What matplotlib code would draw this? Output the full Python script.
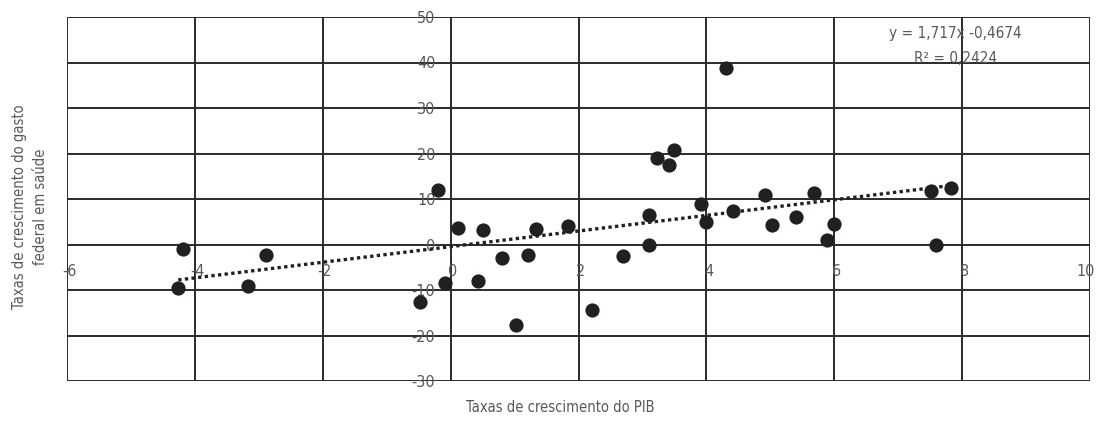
"""
Scatter of GDP growth vs. federal health spending growth, with linear trendline.
"""

import matplotlib
matplotlib.use("Agg")
import matplotlib.pyplot as plt
import matplotlib.transforms as mtransforms
import numpy as np

# ---- Data ----
pib_growth = [-4.26, -4.18, -3.17, -2.89, -0.48, -0.19, -0.09, 0.12, 0.43, 0.51,
              0.81, 1.02, 1.21, 1.34, 1.83, 2.21, 2.70, 3.11, 3.11, 3.23,
              3.42, 3.50, 3.92, 3.99, 4.31, 4.42, 4.91, 5.02, 5.40, 5.69,
              5.88, 5.99, 7.51, 7.59, 7.83]
health_growth = [-9.5, -1.0, -9.1, -2.2, -12.7, 12.0, -8.4, 3.7, -8.1, 3.1,
                 -2.9, -17.7, -2.2, 3.3, 4.0, -14.5, -2.6, 6.5, 0.0, 19.0,
                 17.4, 20.7, 8.8, 4.9, 38.9, 7.3, 10.8, 4.2, 6.0, 11.3,
                 1.0, 4.4, 11.8, -0.1, 12.5]

slope, intercept = 1.717, -0.4674
r2 = 0.2424

x_ticks = [-6, -4, -2, 0, 2, 4, 6, 8, 10]
y_ticks = [-30, -20, -10, 0, 10, 20, 30, 40, 50]

TEXT_COLOR = "#595959"
LINE_COLOR = "#2b2b2b"
DOT_COLOR = "#231f20"

plt.rcParams["font.family"] = ["DejaVu Sans"]
plt.rcParams["font.stretch"] = "condensed"
plt.rcParams["axes.unicode_minus"] = False


def main():
    fig = plt.figure(figsize=(10.97, 4.22), dpi=100)
    ax = fig.add_axes([67 / 1097, 1 - 381 / 422, 1023 / 1097, 364 / 422])

    ax.set_xlim(-6, 10)
    ax.set_ylim(-30, 50)
    ax.set_xticks(x_ticks)
    ax.set_yticks(y_ticks)
    ax.set_xticklabels([str(t) for t in x_ticks])
    ax.set_yticklabels([str(t) for t in y_ticks])

    # grid + outer frame
    for xv in x_ticks:
        ax.axvline(xv, color=LINE_COLOR, lw=1.4, zorder=1)
    for yv in y_ticks:
        ax.axhline(yv, color=LINE_COLOR, lw=1.4, zorder=1)
    for side in ["top", "right", "left", "bottom"]:
        ax.spines[side].set_visible(False)

    # tick labels sit along the zero axes
    ax.spines["left"].set_position(("data", 0))
    ax.spines["bottom"].set_position(("data", 0))
    ax.tick_params(axis="both", length=0, labelsize=11.5, labelcolor=TEXT_COLOR)
    ax.tick_params(axis="x", pad=14)
    ax.tick_params(axis="y", pad=11)

    # x labels sit a touch right of their grid line; last one kept inside
    xlabels = ax.get_xticklabels()
    for i, lab in enumerate(xlabels):
        dx = 1.5 / 72 if i < len(xlabels) - 1 else -3 / 72
        lab.set_transform(lab.get_transform() +
                          mtransforms.ScaledTranslation(dx, 0, fig.dpi_scale_trans))

    # data points
    ax.scatter(pib_growth, health_growth, s=105, color=DOT_COLOR, zorder=3,
               linewidths=0)

    # trendline
    xs = np.array([min(pib_growth), max(pib_growth)])
    ax.plot(xs, slope * xs + intercept, color=DOT_COLOR, lw=2.4,
            linestyle=(0, (1, 1)), zorder=4)

    ax.text(7.9, 46.4, "y = 1,717x -0,4674", ha="center", va="center",
            fontsize=11, color=TEXT_COLOR)
    ax.text(7.9, 40.9, "R² = 0,2424", ha="center", va="center",
            fontsize=11, color=TEXT_COLOR)

    fig.text(560 / 1097, 1 - 407 / 422, "Taxas de crescimento do PIB",
             ha="center", va="center", fontsize=10.5, color=TEXT_COLOR)
    fig.text(30 / 1097, 1 - 207 / 422,
             "Taxas de crescimento do gasto\nfederal em saúde",
             ha="center", va="center", rotation=90, fontsize=10.5,
             color=TEXT_COLOR, linespacing=1.45)

    fig.savefig("out.png", dpi=100)


if __name__ == "__main__":
    main()
